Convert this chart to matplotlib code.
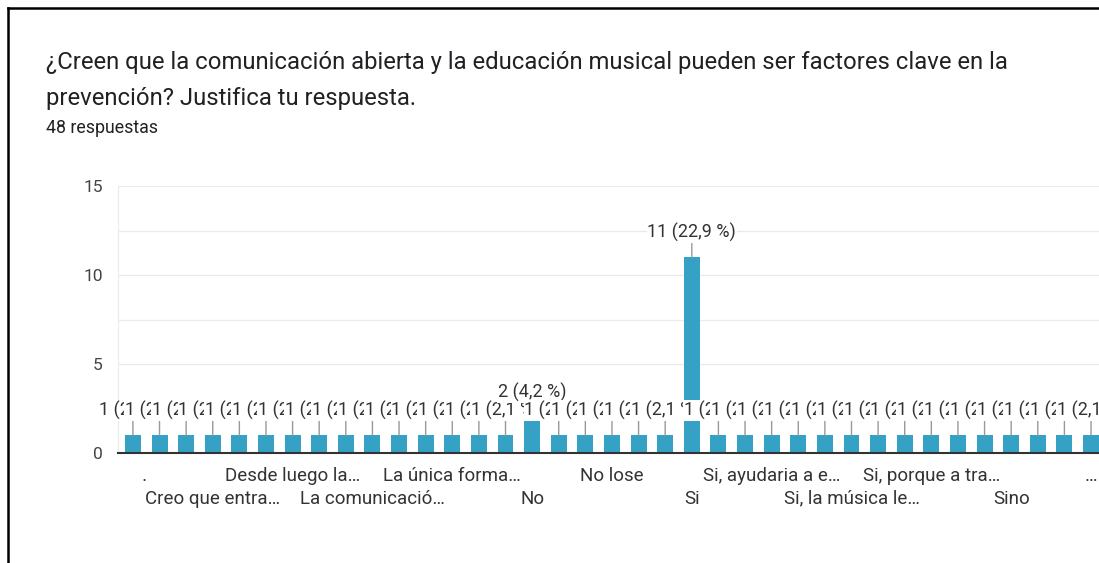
import matplotlib
matplotlib.use("Agg")
import matplotlib.pyplot as plt
from matplotlib.lines import Line2D

plt.rcParams['font.family'] = ['Roboto', 'DejaVu Sans']

# data
title = "¿Creen que la comunicación abierta y la educación musical pueden ser factores clave en la\nprevención? Justifica tu respuesta."
subtitle = "48 respuestas"
total = 48
counts = [1] * 15 + [2] + [1] * 5 + [11] + [1] * 15
tick_labels = ["     .", "Creo que entra…", "Desde luego la…", "La comunicació…", "La única forma…",
               "No", "No lose", "Si", "Si, ayudaria a e…", "Si, la música le…",
               "Si, porque a tra…", "Sino", "…"]
tick_every = 3

bar_color = "#35a2c5"

fig = plt.figure(figsize=(10.99, 5.63), dpi=100)
ax = fig.add_axes([118 / 1099, 1 - 453 / 563, 1 - 118 / 1099, (453 - 186) / 563])

x = list(range(len(counts)))
ax.bar(x, counts, width=0.6, color=bar_color, zorder=2)

for i, v in enumerate(counts):
    pct = f"{v / total * 100:.1f}".replace(".", ",")
    ax.annotate(f"{v} ({pct} %)", xy=(i, v), xytext=(0, 18), textcoords="offset points",
                ha="center", va="center", fontsize=13, color="#333333",
                bbox=dict(boxstyle="square,pad=0.05", fc="white", ec="none"),
                arrowprops=dict(arrowstyle="-", color="#999999", lw=1, shrinkA=0, shrinkB=0),
                zorder=3 + i)

ax.set_ylim(0, 15)
ax.set_xlim(-0.56, len(counts) - 0.7)
ax.set_yticks([0, 2.5, 5, 7.5, 10, 12.5, 15])
ax.set_yticklabels(["0", "", "5", "", "10", "", "15"])
ax.tick_params(axis="y", length=0, pad=11, labelsize=12.5, labelcolor="#444444")
ax.grid(axis="y", color="#ebebeb", lw=1, zorder=0)

pos = x[::tick_every]
labs = [t if k % 2 == 0 else "\n" + t for k, t in enumerate(tick_labels)]
ax.set_xticks(pos)
ax.set_xticklabels(labs, fontsize=13.5, color="#333333", linespacing=1.35)
ax.tick_params(axis="x", length=0, pad=10)

for s in ["top", "right"]:
    ax.spines[s].set_visible(False)
ax.spines["left"].set_color("#ebebeb")
ax.spines["bottom"].set_color("#333333")
ax.spines["bottom"].set_linewidth(1.5)
ax.spines["bottom"].set_zorder(5)

fig.text(46 / 1099, 1 - 51 / 563, title, ha="left", va="top", fontsize=17.2,
         color="#202124", linespacing=1.7)
fig.text(46 / 1099, 1 - 128 / 563, subtitle, ha="left", va="center", fontsize=12.8, color="#202124")

# frame of the screenshot
fig.add_artist(Line2D([8 / 1099, 8 / 1099], [0, 1 - 8 / 563], color="black", lw=1.8))
fig.add_artist(Line2D([8 / 1099, 1], [1 - 8 / 563, 1 - 8 / 563], color="black", lw=1.8))

fig.savefig("out.png", dpi=100)
